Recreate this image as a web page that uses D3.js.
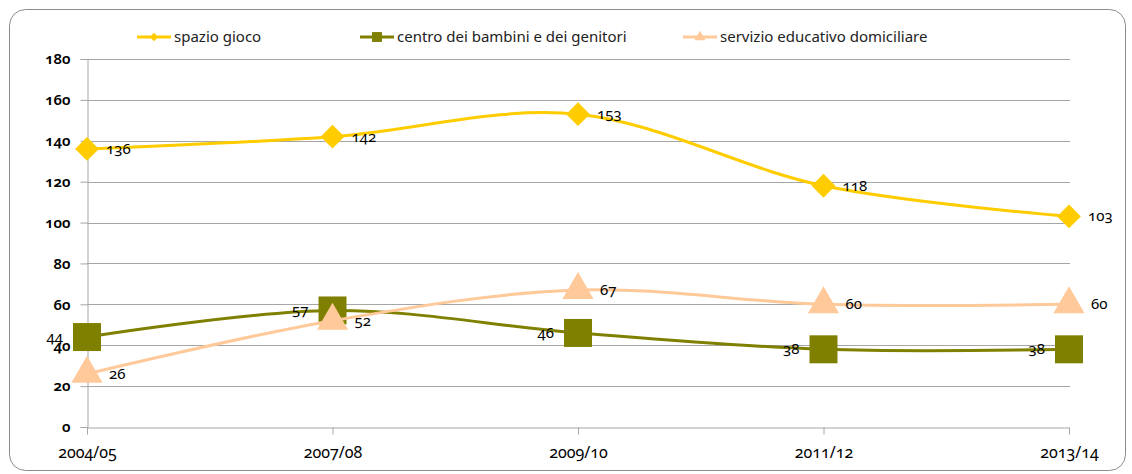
<!DOCTYPE html>
<html><head><meta charset="utf-8">
<script src="https://cdn.jsdelivr.net/npm/d3@7"></script>
<style>
body{margin:0;background:#fff;}
text{font-family:"Noto Sans",sans-serif;font-variant-numeric:oldstyle-nums;}
</style></head>
<body><svg id="c" width="1132" height="474"></svg>
<script>
const categories=["2004/05","2007/08","2009/10","2011/12","2013/14"];
const spazioGioco=[136,142,153,118,103];
const centroBambini=[44,57,46,38,38];
const servizioDomiciliare=[26,52,67,60,60];
const yTicks=[0,20,40,60,80,100,120,140,160,180];
const seriesNames=["spazio gioco","centro dei bambini e dei genitori","servizio educativo domiciliare"];

const svg=d3.select("#c");
svg.append("rect").attr("x",9.5).attr("y",9.5).attr("width",1116).attr("height",461).attr("rx",16)
  .attr("fill","#fff").attr("stroke","#8c8c8c").attr("stroke-width",1);

const x=d3.scalePoint().domain(categories).range([87,1069]).padding(0);
const y=d3.scaleLinear().domain([0,180]).range([427,59]);

svg.append("g").selectAll("line").data(yTicks.filter(d=>d>0)).join("line")
  .attr("x1",87).attr("x2",1070).attr("y1",d=>Math.round(y(d))+0.5).attr("y2",d=>Math.round(y(d))+0.5)
  .attr("stroke","#a6a6a6").attr("stroke-width",1);

const yAxis=svg.append("g").attr("transform","translate(87.5,0)")
  .call(d3.axisLeft(y).tickValues(yTicks).tickSize(7).tickPadding(10).tickFormat(d3.format("d")));
yAxis.select(".domain").attr("stroke","#a6a6a6");
yAxis.selectAll(".tick line").attr("stroke","#a6a6a6");
yAxis.selectAll(".tick text").attr("font-size",15).attr("fill","#000").attr("font-weight","600");

const xAxis=svg.append("g").attr("transform","translate(0,427.5)")
  .call(d3.axisBottom(x).tickSize(7).tickPadding(12).tickSizeOuter(0));
xAxis.select(".domain").attr("stroke","#a6a6a6");
xAxis.selectAll(".tick line").attr("stroke","#a6a6a6");
xAxis.selectAll(".tick text").attr("font-size",16).attr("fill","#000");

const series=[
  {name:seriesNames[0],vals:spazioGioco,color:"#FFCC00",sym:d3.symbolDiamond2,size:360,labelDx:19,anchor:"start"},
  {name:seriesNames[1],vals:centroBambini,color:"#808000",sym:d3.symbolSquare,size:784,labelDx:-24,anchor:"end"},
  {name:seriesNames[2],vals:servizioDomiciliare,color:"#FFC999",sym:d3.symbolTriangle,size:420,labelDx:22,anchor:"start"}
];
const line=d3.line().x((d,i)=>x(categories[i])).y(d=>y(d)).curve(d3.curveCardinal.tension(0));

series.forEach(s=>{
  const g=svg.append("g");
  g.append("path").attr("d",line(s.vals)).attr("fill","none").attr("stroke",s.color).attr("stroke-width",3);
  g.selectAll("path.m").data(s.vals).join("path").attr("class","m")
    .attr("transform",(d,i)=>`translate(${x(categories[i])},${y(d)})`)
    .attr("d",d3.symbol().type(s.sym).size(s.size)).attr("fill",s.color);
});
series.forEach(s=>{
  svg.append("g").selectAll("text").data(s.vals).join("text")
    .attr("x",(d,i)=>x(categories[i])+s.labelDx).attr("y",d=>y(d)+5)
    .attr("text-anchor",s.anchor).attr("font-size",15).attr("fill","#000").text(d=>d);
});

const legX=[137,360,683];
series.forEach((s,i)=>{
  const g=svg.append("g").attr("transform",`translate(${legX[i]},37)`);
  g.append("line").attr("x1",0).attr("x2",34).attr("stroke",s.color).attr("stroke-width",3);
  g.append("path").attr("transform","translate(17,0)").attr("d",d3.symbol().type(s.sym).size(s.size/8)).attr("fill",s.color);
  g.append("text").attr("x",37).attr("y",5).attr("font-size",15).attr("fill","#222").text(s.name);
});
</script></body></html>
